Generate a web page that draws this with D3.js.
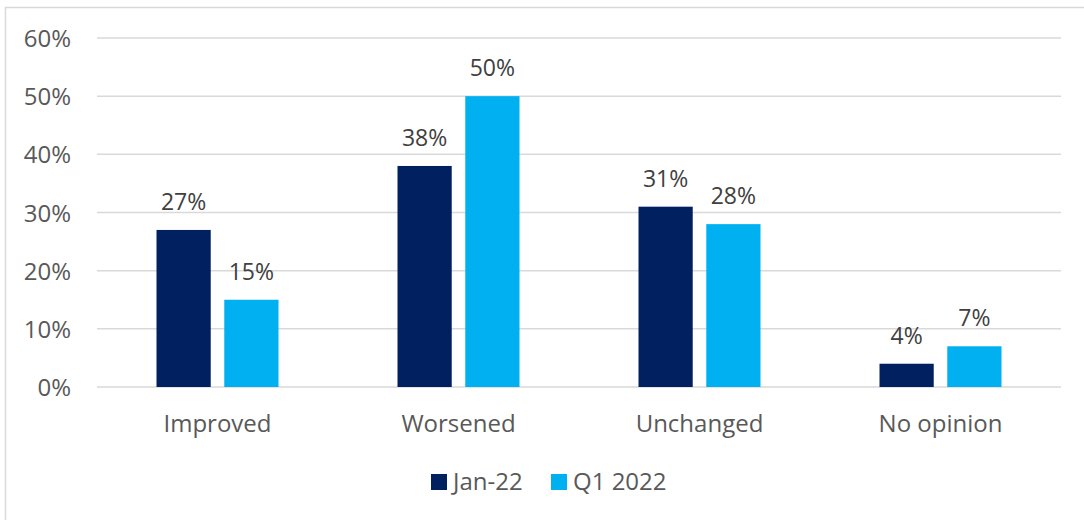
<!DOCTYPE html>
<html>
<head>
<meta charset="utf-8">
<script src="https://cdn.jsdelivr.net/npm/d3@7"></script>
<style>
  body { margin: 0; background: #fff; }
  text { font-family: "Open Sans", "Noto Sans", sans-serif; fill: #595959; }
</style>
</head>
<body>
<div id="chart"></div>
<script>
var categories = ["Improved", "Worsened", "Unchanged", "No opinion"];
var seriesNames = ["Jan-22", "Q1 2022"];
var jan22 = [27, 38, 31, 4];
var q12022 = [15, 50, 28, 7];
var yTicks = [0, 10, 20, 30, 40, 50, 60];
var colors = ["#002060", "#00B0F0"];

var width = 1084,
    height = 520;

var svg = d3.select("#chart").append("svg")
    .attr("width", width)
    .attr("height", height);

// chart frame
svg.append("rect")
    .attr("x", 5.5).attr("y", 7.5)
    .attr("width", 1090).attr("height", 530)
    .attr("fill", "none")
    .attr("stroke", "#d9d9d9")
    .attr("stroke-width", 1.5);

var x = d3.scaleBand().domain(categories).range([97, 1061]);
var inner = d3.scaleBand().domain(seriesNames)
    .range([x.bandwidth() / 2 - 61, x.bandwidth() / 2 + 61])
    .paddingInner(0.2);
var y = d3.scaleLinear().domain([0, 60]).range([387, 38]);

// gridlines
svg.append("g").selectAll("line")
    .data(yTicks)
  .enter().append("line")
    .attr("x1", 97).attr("x2", 1061)
    .attr("y1", function(d) { return y(d); })
    .attr("y2", function(d) { return y(d); })
    .attr("stroke", "#d9d9d9")
    .attr("stroke-width", 1.5);

// y axis labels
var yAxis = d3.axisLeft(y).tickValues(yTicks)
    .tickFormat(function(d) { return d + "%"; })
    .tickSize(0).tickPadding(0);
var ya = svg.append("g").attr("transform", "translate(71,0)").call(yAxis);
ya.select(".domain").remove();
ya.selectAll("text").attr("font-size", 24).style("font-family", null)
    .attr("fill", "#595959").attr("dy", "0.36em");

var data = [jan22, q12022];

var groups = svg.selectAll(".cat")
    .data(categories)
  .enter().append("g")
    .attr("class", "cat")
    .attr("transform", function(d) { return "translate(" + x(d) + ",0)"; });

seriesNames.forEach(function(s, si) {
  groups.append("rect")
      .attr("x", inner(s))
      .attr("width", inner.bandwidth())
      .attr("y", function(d, i) { return y(data[si][i]); })
      .attr("height", function(d, i) { return y(0) - y(data[si][i]); })
      .attr("fill", colors[si]);

  groups.append("text")
      .attr("x", inner(s) + inner.bandwidth() / 2)
      .attr("y", function(d, i) { return y(data[si][i]) - 20; })
      .attr("text-anchor", "middle")
      .attr("font-size", 23)
      .style("fill", "#404040")
      .text(function(d, i) { return data[si][i] + "%"; });
});

// category labels
groups.append("text")
    .attr("x", x.bandwidth() / 2)
    .attr("y", 432)
    .attr("text-anchor", "middle")
    .attr("font-size", 24)
    .text(function(d) { return d; });

// legend
var legend = svg.append("g");
var legendX = [431, 551];
seriesNames.forEach(function(s, i) {
  legend.append("rect")
      .attr("x", legendX[i]).attr("y", 474)
      .attr("width", 16).attr("height", 16)
      .attr("fill", colors[i]);
  legend.append("text")
      .attr("x", legendX[i] + 22).attr("y", 490)
      .attr("font-size", 24)
      .text(s);
});
</script>
</body>
</html>
